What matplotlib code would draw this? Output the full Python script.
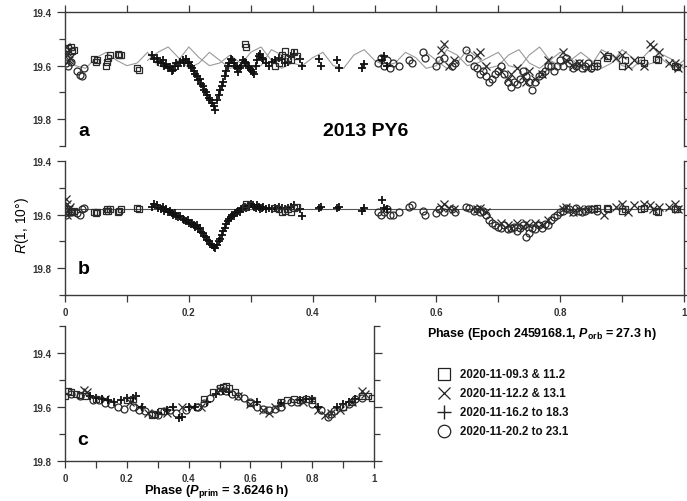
import numpy as np
import matplotlib
matplotlib.use("Agg")
import matplotlib.pyplot as plt
from matplotlib.lines import Line2D
from matplotlib.ticker import MultipleLocator

plt.rcParams['font.family'] = ['Liberation Sans', 'DejaVu Sans']
plt.rcParams['mathtext.fontset'] = 'custom'
plt.rcParams['mathtext.it'] = 'Liberation Sans:italic:bold'
plt.rcParams['mathtext.rm'] = 'Liberation Sans:bold'
plt.rcParams['mathtext.bf'] = 'Liberation Sans:bold'
plt.rcParams['mathtext.sf'] = 'Liberation Sans:italic'

# ---------------- data ----------------
# gray model curves (panel a), orbital phase grid k/60
model_ph = [k / 60 for k in range(61)]
model1 = [19.54, 19.60, 19.61, 19.57, 19.55, 19.58, 19.60, 19.59,
          19.55, 19.60, 19.61, 19.58, 19.53, 19.57, 19.60, 19.59,
          19.56, 19.59, 19.61, 19.60, 19.54, 19.56, 19.59, 19.60,
          19.57, 19.55, 19.60, 19.61, 19.56, 19.54, 19.58, 19.60,
          19.59, 19.55, 19.57, 19.61, 19.60, 19.54, 19.56, 19.60,
          19.59, 19.57, 19.55, 19.60, 19.61, 19.56, 19.53, 19.58,
          19.60, 19.58, 19.55, 19.58, 19.61, 19.59, 19.54, 19.57,
          19.60, 19.59, 19.56, 19.58, 19.61]
nan = np.nan
model2 = [nan] * 8 + [19.58, 19.55, 19.53, 19.57, 19.61, 19.59, 19.55, 19.58,
                      19.61, 19.60, 19.55, 19.53, 19.58, 19.61, 19.59] + [nan] * 12 + \
         [19.55, 19.58, 19.61, 19.59, 19.54, 19.57, 19.61, 19.60, 19.56, 19.54,
          19.59, 19.61, 19.58, 19.55, 19.57, 19.61, 19.60, 19.54, 19.56, 19.60,
          19.61, 19.57, 19.53, 19.58, 19.61, 19.58]

# squares: 2020-11-09.3 & 11.2
sq_ph = [0.005, 0.010, 0.012, 0.015, 0.047, 0.050, 0.052, 0.066, 0.068, 0.070,
         0.072, 0.086, 0.088, 0.090, 0.117, 0.120, 0.290, 0.292, 0.340, 0.345,
         0.350, 0.355, 0.360, 0.365, 0.370, 0.375, 0.855, 0.860, 0.875, 0.878,
         0.900, 0.905, 0.930, 0.935, 0.955, 0.958, 0.985, 0.988]
sq_a = [19.535, 19.530, 19.545, 19.540, 19.575, 19.585, 19.580, 19.600, 19.585, 19.570,
        19.560, 19.555, 19.560, 19.560, 19.610, 19.615, 19.520, 19.530, 19.600, 19.590,
        19.560, 19.545, 19.570, 19.580, 19.550, 19.565, 19.600, 19.590, 19.570, 19.565,
        19.600, 19.580, 19.580, 19.590, 19.575, 19.580, 19.600, 19.605]
sq_b = [19.580, 19.590, 19.590, 19.585, 19.590, 19.595, 19.590, 19.585, 19.580, 19.585,
        19.580, 19.590, 19.585, 19.580, 19.575, 19.580, 19.570, 19.560, 19.575, 19.580,
        19.590, 19.585, 19.580, 19.590, 19.575, 19.570, 19.580, 19.575, 19.575, 19.580,
        19.585, 19.580, 19.580, 19.575, 19.585, 19.590, 19.580, 19.580]

# crosses: 2020-11-12.2 & 13.1
x_ph = [0.002, 0.003, 0.004, 0.006, 0.008, 0.608, 0.612, 0.620, 0.628, 0.665,
        0.670, 0.680, 0.705, 0.715, 0.720, 0.730, 0.740, 0.745, 0.750, 0.760,
        0.770, 0.780, 0.805, 0.810, 0.820, 0.830, 0.845, 0.870, 0.890, 0.900,
        0.910, 0.920, 0.935, 0.945, 0.950, 0.960, 0.975, 0.985, 0.990]
x_a = [19.530, 19.550, 19.560, 19.580, 19.570, 19.540, 19.520, 19.600, 19.580, 19.560,
       19.550, 19.600, 19.620, 19.650, 19.630, 19.610, 19.640, 19.660, 19.620, 19.650,
       19.630, 19.580, 19.550, 19.580, 19.600, 19.590, 19.610, 19.560, 19.570, 19.560,
       19.600, 19.580, 19.600, 19.520, 19.530, 19.550, 19.590, 19.590, 19.610]
x_b = [19.540, 19.600, 19.560, 19.580, 19.570, 19.570, 19.560, 19.575, 19.580, 19.580,
       19.575, 19.590, 19.630, 19.640, 19.650, 19.630, 19.645, 19.630, 19.640, 19.630,
       19.640, 19.620, 19.580, 19.570, 19.590, 19.580, 19.580, 19.600, 19.570, 19.560,
       19.590, 19.565, 19.560, 19.565, 19.580, 19.570, 19.570, 19.560, 19.580]

# plus: 2020-11-16.2 to 18.3
p_ph = [0.140, 0.143, 0.148, 0.150, 0.155, 0.158, 0.160, 0.163, 0.167, 0.170,
        0.173, 0.175, 0.178, 0.180, 0.183, 0.186, 0.190, 0.193, 0.195, 0.198,
        0.200, 0.203, 0.205, 0.208, 0.210, 0.213, 0.215, 0.218, 0.220, 0.223,
        0.225, 0.228, 0.230, 0.233, 0.235, 0.238, 0.240, 0.242, 0.245, 0.248,
        0.250, 0.253, 0.255, 0.258, 0.260, 0.263, 0.265, 0.268, 0.270, 0.273,
        0.275, 0.278, 0.280, 0.283, 0.285, 0.288, 0.290, 0.293, 0.295, 0.298,
        0.300, 0.303, 0.305, 0.308, 0.310, 0.313, 0.315, 0.318, 0.320, 0.325,
        0.330, 0.335, 0.340, 0.345, 0.350, 0.355, 0.360, 0.365, 0.370, 0.380,
        0.383, 0.410, 0.413, 0.440, 0.443, 0.480, 0.483, 0.512, 0.515, 0.520]
p_a = [19.560, 19.575, 19.570, 19.585, 19.590, 19.580, 19.600, 19.595, 19.610, 19.605,
       19.620, 19.615, 19.600, 19.590, 19.600, 19.585, 19.580, 19.590, 19.575, 19.590,
       19.585, 19.600, 19.610, 19.620, 19.630, 19.640, 19.655, 19.650, 19.670, 19.675,
       19.690, 19.700, 19.710, 19.720, 19.730, 19.740, 19.750, 19.765, 19.730, 19.710,
       19.690, 19.675, 19.660, 19.640, 19.620, 19.600, 19.590, 19.575, 19.580, 19.590,
       19.600, 19.610, 19.625, 19.610, 19.600, 19.580, 19.585, 19.590, 19.600, 19.610,
       19.615, 19.625, 19.630, 19.600, 19.580, 19.565, 19.555, 19.570, 19.575, 19.590,
       19.600, 19.585, 19.580, 19.570, 19.575, 19.590, 19.585, 19.565, 19.555, 19.575,
       19.600, 19.575, 19.600, 19.580, 19.610, 19.610, 19.595, 19.580, 19.565, 19.600]
p_b = [19.570, 19.560, 19.565, 19.575, 19.580, 19.570, 19.585, 19.580, 19.590, 19.585,
       19.595, 19.600, 19.595, 19.605, 19.610, 19.605, 19.615, 19.620, 19.625, 19.620,
       19.630, 19.635, 19.630, 19.640, 19.645, 19.640, 19.655, 19.650, 19.665, 19.670,
       19.680, 19.685, 19.695, 19.700, 19.710, 19.715, 19.720, 19.725, 19.715, 19.700,
       19.690, 19.675, 19.660, 19.650, 19.635, 19.625, 19.615, 19.610, 19.600, 19.605,
       19.595, 19.590, 19.585, 19.590, 19.580, 19.575, 19.570, 19.575, 19.565, 19.570,
       19.560, 19.565, 19.570, 19.575, 19.565, 19.570, 19.580, 19.575, 19.570, 19.580,
       19.575, 19.580, 19.575, 19.570, 19.575, 19.580, 19.575, 19.570, 19.565, 19.580,
       19.605, 19.575, 19.570, 19.575, 19.570, 19.585, 19.575, 19.545, 19.575, 19.580]

# circles: 2020-11-20.2 to 23.1
o_ph = [0.002, 0.005, 0.010, 0.020, 0.025, 0.028, 0.030, 0.505, 0.510, 0.515,
        0.520, 0.525, 0.530, 0.540, 0.555, 0.560, 0.578, 0.582, 0.600, 0.605,
        0.612, 0.625, 0.630, 0.648, 0.652, 0.660, 0.665, 0.670, 0.675, 0.680,
        0.685, 0.690, 0.695, 0.700, 0.705, 0.710, 0.715, 0.720, 0.725, 0.730,
        0.735, 0.740, 0.745, 0.750, 0.755, 0.760, 0.765, 0.770, 0.775, 0.780,
        0.785, 0.790, 0.795, 0.800, 0.805, 0.810, 0.815, 0.820, 0.825, 0.830,
        0.835, 0.840, 0.845, 0.850, 0.860]
o_a = [19.590, 19.600, 19.585, 19.620, 19.635, 19.640, 19.610, 19.590, 19.570, 19.600,
       19.580, 19.610, 19.590, 19.600, 19.580, 19.590, 19.550, 19.570, 19.600, 19.580,
       19.570, 19.600, 19.590, 19.540, 19.570, 19.600, 19.610, 19.630, 19.620, 19.640,
       19.660, 19.650, 19.630, 19.620, 19.600, 19.630, 19.660, 19.680, 19.660, 19.670,
       19.650, 19.620, 19.640, 19.660, 19.690, 19.660, 19.640, 19.630, 19.620, 19.600,
       19.600, 19.620, 19.600, 19.580, 19.600, 19.570, 19.590, 19.610, 19.600, 19.590,
       19.610, 19.600, 19.590, 19.610, 19.600]
o_b = [19.600, 19.585, 19.590, 19.595, 19.600, 19.580, 19.575, 19.590, 19.600, 19.590,
       19.580, 19.600, 19.600, 19.590, 19.570, 19.565, 19.585, 19.600, 19.595, 19.580,
       19.590, 19.580, 19.590, 19.570, 19.575, 19.585, 19.580, 19.590, 19.585, 19.600,
       19.620, 19.630, 19.640, 19.645, 19.650, 19.640, 19.655, 19.650, 19.645, 19.660,
       19.650, 19.640, 19.685, 19.670, 19.650, 19.655, 19.640, 19.650, 19.635, 19.640,
       19.620, 19.610, 19.600, 19.590, 19.585, 19.575, 19.580, 19.590, 19.575, 19.585,
       19.590, 19.585, 19.580, 19.580, 19.585]

mean_level = 19.58

# panel c: primary rotation phase
c_sq_ph = [0.000, 0.010, 0.020, 0.035, 0.050, 0.065, 0.100, 0.200, 0.220, 0.280,
           0.290, 0.310, 0.450, 0.480, 0.500, 0.510, 0.520, 0.530, 0.550, 0.600,
           0.700, 0.720, 0.740, 0.760, 0.780, 0.800, 0.900, 0.930, 0.960, 0.980, 0.995]
c_sq = [19.560, 19.540, 19.545, 19.550, 19.555, 19.560, 19.570, 19.575, 19.570, 19.630,
        19.625, 19.615, 19.570, 19.545, 19.530, 19.525, 19.520, 19.530, 19.545, 19.585,
        19.580, 19.575, 19.570, 19.575, 19.570, 19.575, 19.600, 19.580, 19.560, 19.560, 19.565]
c_x_ph = [0.060, 0.070, 0.130, 0.210, 0.240, 0.270, 0.330, 0.380, 0.410, 0.440,
          0.500, 0.560, 0.600, 0.640, 0.660, 0.680, 0.700, 0.770, 0.820, 0.840,
          0.860, 0.890, 0.930, 0.960, 0.970]
c_x = [19.535, 19.545, 19.570, 19.580, 19.600, 19.620, 19.620, 19.600, 19.600, 19.600,
       19.535, 19.560, 19.590, 19.610, 19.620, 19.600, 19.590, 19.580, 19.610, 19.630,
       19.620, 19.610, 19.580, 19.540, 19.550]
c_p_ph = [0.080, 0.100, 0.120, 0.140, 0.160, 0.180, 0.200, 0.220, 0.230, 0.250,
          0.300, 0.330, 0.350, 0.370, 0.380, 0.400, 0.420, 0.460, 0.490, 0.510,
          0.530, 0.620, 0.700, 0.760, 0.780, 0.800, 0.820, 0.880, 0.900, 0.920, 0.940]
c_p = [19.560, 19.565, 19.570, 19.575, 19.580, 19.575, 19.565, 19.565, 19.560, 19.600,
       19.620, 19.610, 19.600, 19.640, 19.635, 19.600, 19.600, 19.580, 19.550, 19.540,
       19.545, 19.580, 19.585, 19.575, 19.570, 19.570, 19.600, 19.600, 19.590, 19.580, 19.570]
c_o_ph = [0.020, 0.050, 0.090, 0.110, 0.130, 0.150, 0.170, 0.190, 0.220, 0.240,
          0.260, 0.280, 0.300, 0.320, 0.340, 0.360, 0.390, 0.430, 0.450, 0.470,
          0.500, 0.520, 0.540, 0.560, 0.580, 0.600, 0.620, 0.640, 0.660, 0.680,
          0.700, 0.730, 0.750, 0.800, 0.830, 0.850, 0.860, 0.870, 0.900, 0.920,
          0.940, 0.960]
c_o = [19.550, 19.560, 19.575, 19.575, 19.585, 19.590, 19.600, 19.605, 19.600, 19.610,
       19.615, 19.625, 19.630, 19.615, 19.610, 19.620, 19.610, 19.600, 19.585, 19.565,
       19.540, 19.540, 19.550, 19.560, 19.565, 19.580, 19.600, 19.605, 19.610, 19.605,
       19.600, 19.580, 19.580, 19.590, 19.610, 19.635, 19.625, 19.615, 19.600, 19.590,
       19.570, 19.565]

legend_labels = ['2020-11-09.3 & 11.2', '2020-11-12.2 & 13.1',
                 '2020-11-16.2 to 18.3', '2020-11-20.2 to 23.1']
xtick_vals = [0, 0.2, 0.4, 0.6, 0.8, 1.0]
xtick_labels = ['0', '0.2', '0.4', '0.6', '0.8', '1']
ytick_vals = [19.4, 19.6, 19.8]
ytick_labels = ['19.4', '19.6', '19.8']

# ---------------- styles ----------------
AXC = '#3a3a3a'
styles = {
    'sq': dict(marker='s', ms=4.8, mfc='none', mec='#2a2a2a', mew=0.9, ls='none'),
    'x': dict(marker='x', ms=5.3, mec='#2a2a2a', mew=0.9, ls='none'),
    'p': dict(marker='+', ms=6.3, mec='#111111', mew=1.3, ls='none'),
    'o': dict(marker='o', ms=5.0, mfc='none', mec='#2a2a2a', mew=0.9, ls='none'),
}

W, H = 687, 502
fig = plt.figure(figsize=(W / 100, H / 100), dpi=100)


def px_axes(x0, x1, ytop, ybot):
    return fig.add_axes([x0 / W, 1 - ybot / H, (x1 - x0) / W, (ybot - ytop) / H])


axa = px_axes(65, 684, 13.3, 146.7)
axb = px_axes(65, 684, 162, 296)
axc = px_axes(65, 374, 327, 462.3)


def common(ax, ylo, yhi):
    ax.set_xlim(0, 1)
    ax.set_ylim(yhi, ylo)
    for s in ax.spines.values():
        s.set_color(AXC)
        s.set_linewidth(1.0)
    ax.set_yticks(ytick_vals, ytick_labels)
    ax.yaxis.set_minor_locator(MultipleLocator(0.1))
    ax.xaxis.set_minor_locator(MultipleLocator(0.1))
    ax.tick_params(axis='both', which='both', direction='out', color=AXC, width=0.9,
                   labelsize=7, labelcolor='#333333')
    ax.tick_params(axis='y', which='major', length=6, left=True, right=True)
    ax.tick_params(axis='y', which='minor', length=4, left=True, right=True)
    ax.tick_params(axis='x', which='both', length=5)
    for lab in ax.get_xticklabels() + ax.get_yticklabels():
        lab.set_fontweight('bold')


# panel a
common(axa, 19.4, 19.9)
axa.spines['bottom'].set_visible(False)
axa.set_xticks(xtick_vals)
axa.tick_params(axis='x', which='both', top=True, bottom=False, labeltop=False, labelbottom=False)
axa.tick_params(axis='y', which='major', labelleft=True, labelright=False)
for lab in axa.get_yticklabels():
    lab.set_fontweight('bold')
axa.plot(model_ph, model1, color='#9a9a9a', lw=0.8, zorder=1)
axa.plot(model_ph, model2, color='#9a9a9a', lw=0.8, zorder=1)
axa.plot(o_ph, o_a, **styles['o'], zorder=2)
axa.plot(x_ph, x_a, **styles['x'], zorder=3)
axa.plot(p_ph, p_a, **styles['p'], zorder=4)
axa.plot(sq_ph, sq_a, **styles['sq'], zorder=5)

# panel b
common(axb, 19.4, 19.9)
axb.spines['top'].set_visible(False)
axb.set_xticks(xtick_vals, xtick_labels)
axb.tick_params(axis='x', which='both', top=False, bottom=True)
for lab in axb.get_xticklabels() + axb.get_yticklabels():
    lab.set_fontweight('bold')
axb.axhline(mean_level, color='#555555', lw=0.8, zorder=1)
axb.plot(o_ph, o_b, **styles['o'], zorder=2)
axb.plot(x_ph, x_b, **styles['x'], zorder=3)
axb.plot(p_ph, p_b, **styles['p'], zorder=4)
axb.plot(sq_ph, sq_b, **styles['sq'], zorder=5)

# panel c
common(axc, 19.3, 19.8)
axc.spines['top'].set_visible(False)
axc.set_xticks(xtick_vals, xtick_labels)
axc.tick_params(axis='x', which='both', top=False, bottom=True)
for lab in axc.get_xticklabels() + axc.get_yticklabels():
    lab.set_fontweight('bold')
axc.plot(c_o_ph, c_o, **styles['o'], zorder=2)
axc.plot(c_x_ph, c_x, **styles['x'], zorder=3)
axc.plot(c_p_ph, c_p, **styles['p'], zorder=4)
axc.plot(c_sq_ph, c_sq, **styles['sq'], zorder=5)

# texts
fig.text(78 / W, 1 - 131 / H, 'a', fontsize=14, fontweight='bold', va='center', ha='left')
fig.text(366 / W, 1 - 131 / H, '2013 PY6', fontsize=14, fontweight='bold', va='center', ha='center')
fig.text(78 / W, 1 - 270 / H, 'b', fontsize=14, fontweight='bold', va='center', ha='left')
fig.text(77 / W, 1 - 441 / H, 'c', fontsize=14, fontweight='bold', va='center', ha='left')
fig.text(22 / W, 1 - 226 / H, r'$\mathsf{R}$(1, 10°)', fontsize=10, rotation=90,
         va='center', ha='center')
fig.text(542 / W, 1 - 334 / H, r'Phase (Epoch 2459168.1, $P_{\mathrm{orb}}$ = 27.3 h)',
         fontsize=9, fontweight='bold', ha='center', va='center')
fig.text(217 / W, 1 - 492 / H, r'Phase ($P_{\mathrm{prim}}$ = 3.6246 h)',
         fontsize=9.3, fontweight='bold', ha='center', va='center')

# legend
leg_keys = [dict(marker='s', ms=8, mfc='none', mec='#222222', mew=0.9),
            dict(marker='x', ms=9, mec='#222222', mew=0.9),
            dict(marker='+', ms=10, mec='#222222', mew=1.0),
            dict(marker='o', ms=9, mfc='none', mec='#222222', mew=0.9)]
for i, (lab, kw) in enumerate(zip(legend_labels, leg_keys)):
    yc = 1 - (375 + 19 * i) / H
    fig.add_artist(Line2D([444 / W], [yc], transform=fig.transFigure, ls='none', **kw))
    fig.text(460 / W, yc, lab, fontsize=8.3, fontweight='bold', va='center', ha='left',
             color='#111111')

fig.savefig('out.png', dpi=100)
